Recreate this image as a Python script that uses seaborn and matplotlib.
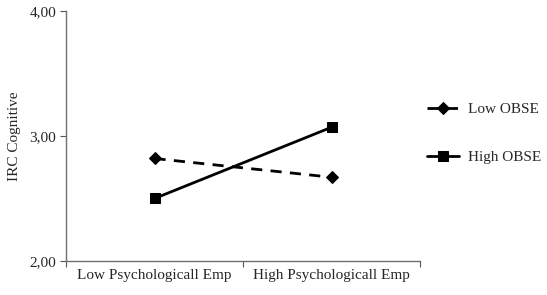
import matplotlib
matplotlib.use("Agg")
import matplotlib.pyplot as plt
import seaborn as sns
import pandas as pd
from matplotlib.ticker import FixedLocator

categories = ["Low Psychologicall Emp", "High Psychologicall Emp"]
low_obse = [2.82, 2.67]
high_obse = [2.50, 3.07]
series_names = ["Low OBSE", "High OBSE"]
y_ticks = [2.0, 3.0, 4.0]
y_tick_labels = ["2,00", "3,00", "4,00"]

sns.set_style("white")
plt.rcParams["font.family"] = ["Liberation Serif", "DejaVu Serif"]

rows = []
for name, vals in zip(series_names, [low_obse, high_obse]):
    for i, v in enumerate(vals):
        rows.append({"x": i, "y": v, "series": name})
df = pd.DataFrame(rows)

fig = plt.figure(figsize=(5.47, 2.95), dpi=100)
ax = fig.add_axes([0.1207, 0.1153, 0.6472, 0.8474])

styles = {"Low OBSE": dict(ls=(0, (4, 3)), marker="D", ms=6),
          "High OBSE": dict(ls="-", marker="s", ms=7)}
for name in series_names:
    sub = df[df["series"] == name]
    st = styles[name]
    sns.lineplot(data=sub, x="x", y="y", ax=ax, color="black", lw=2,
                 linestyle=st["ls"], marker=st["marker"], markersize=st["ms"],
                 markeredgecolor="black", label=name, legend=False)

fs = 11
ax.set_xlim(-0.5, 1.5)
ax.set_ylim(2.0, 4.0)
ax.set_yticks(y_ticks)
ax.set_yticklabels(y_tick_labels, fontsize=fs)
ax.xaxis.set_major_locator(FixedLocator([-0.5, 0.5, 1.5]))
ax.set_xticklabels(["", "", ""])
ax.xaxis.set_minor_locator(FixedLocator(list(range(len(categories)))))
ax.set_xticklabels(categories, minor=True, fontsize=fs)
ax.tick_params(axis="x", which="minor", length=0, pad=6)
ax.tick_params(axis="x", which="major", length=4, direction="out", color="#555555", bottom=True)
ax.tick_params(axis="y", length=4, direction="out", color="#555555", left=True, pad=3)
ax.set_xlabel("")
ax.set_ylabel("IRC Cognitive", fontsize=fs, labelpad=6)
for s in ["top", "right"]:
    ax.spines[s].set_visible(False)
for s in ["left", "bottom"]:
    ax.spines[s].set_color("#707070")
    ax.spines[s].set_linewidth(1)

handles, labels = ax.get_legend_handles_labels()
fig.legend(handles, labels, loc="upper left", bbox_to_anchor=(0.78, 0.653),
           frameon=False, fontsize=fs, labelspacing=2.25, handlelength=2.1,
           handletextpad=0.6, borderaxespad=0, borderpad=0)

fig.savefig("out.png", dpi=100)
